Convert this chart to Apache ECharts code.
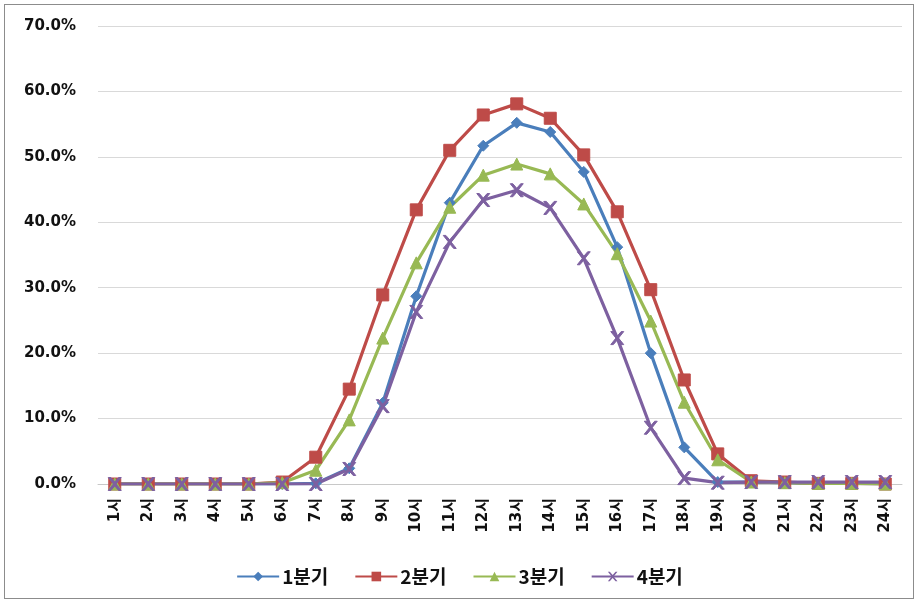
<!DOCTYPE html>
<html>
<head>
<meta charset="utf-8">
<script src="https://cdn.jsdelivr.net/npm/echarts@6/dist/echarts.min.js"></script>
<style>
  html, body { margin: 0; padding: 0; background: #fff; }
  #frame { position: absolute; left: 4px; top: 4px; width: 910px; height: 595px; border: 1px solid #8c8c8c; box-sizing: border-box; }
  #chart { position: absolute; left: 0; top: 0; width: 919px; height: 603px; }
</style>
</head>
<body>
<div id="frame"></div>
<div id="chart"></div>
<script>
// Hourly share (%) by quarter
const hours = ['1시','2시','3시','4시','5시','6시','7시','8시','9시','10시','11시','12시',
               '13시','14시','15시','16시','17시','18시','19시','20시','21시','22시','23시','24시'];
const q1 = [0, 0, 0, 0, 0, 0, 0.1, 2.4, 12.4, 28.7, 43.0, 51.7, 55.2, 53.8, 47.7, 36.2, 20.0, 5.6, 0.3, 0.3, 0.2, 0.1, 0.1, 0];
const q2 = [0, 0, 0, 0, 0, 0.3, 4.1, 14.5, 28.9, 41.9, 51.0, 56.4, 58.1, 55.9, 50.3, 41.6, 29.7, 15.9, 4.6, 0.5, 0.3, 0.1, 0.1, 0];
const q3 = [0, 0, 0, 0, 0, 0.2, 2.1, 9.8, 22.3, 33.8, 42.3, 47.2, 48.9, 47.4, 42.8, 35.2, 24.9, 12.5, 3.7, 0.3, 0.2, 0.1, 0.1, 0];
const q4 = [0, 0, 0, 0, 0, 0, 0, 2.3, 11.9, 26.3, 37.0, 43.4, 44.9, 42.2, 34.5, 22.3, 8.6, 0.9, 0.2, 0.3, 0.3, 0.3, 0.3, 0.3];
const seriesNames = ['1분기', '2분기', '3분기', '4분기'];
const yTicks = { min: 0, max: 70, interval: 10 };

const colors = ['#4a7ebb', '#be4b48', '#98b954', '#7d60a0'];
const xMark = 'path://M0,0 L2,0 L5,3.5 L8,0 L10,0 L6,5 L10,10 L8,10 L5,6.5 L2,10 L0,10 L4,5 Z';
const symbols = ['diamond', 'rect', 'triangle', xMark];
const symbolSizes = [11, 12, 12, 13];
const font = '"DejaVu Sans", "Noto Sans CJK KR", sans-serif';
const cjkFont = '"Noto Sans CJK KR", "DejaVu Sans", sans-serif';

const chart = echarts.init(document.getElementById('chart'), null, { renderer: 'canvas' });
const dataSets = [q1, q2, q3, q4];

chart.setOption({
  animation: false,
  backgroundColor: 'transparent',
  color: colors,
  grid: { left: 98, right: 17, top: 26, bottom: 119 },
  legend: {
    bottom: 12,
    left: 'center',
    itemGap: 26,
    itemWidth: 42,
    itemHeight: 12,
    textStyle: { fontFamily: cjkFont, fontSize: 19, fontWeight: 'bold', color: '#111', padding: [0, 0, 0, -2] },
    data: seriesNames
  },
  xAxis: {
    type: 'category',
    data: hours,
    boundaryGap: true,
    axisLine: { lineStyle: { color: '#c8c8c8', width: 1 } },
    axisTick: { show: false },
    axisLabel: { rotate: 90, fontFamily: font, fontSize: 15, fontWeight: 'bold', color: '#111', margin: 14, interval: 0 }
  },
  yAxis: {
    type: 'value',
    min: yTicks.min, max: yTicks.max, interval: yTicks.interval,
    axisLine: { show: false },
    axisTick: { show: false },
    splitLine: { lineStyle: { color: '#d9d9d9', width: 1 } },
    axisLabel: { fontFamily: font, fontSize: 15, fontWeight: 'bold', color: '#111', margin: 22,
                 formatter: v => v.toFixed(1) + '%' }
  },
  series: dataSets.map((d, i) => ({
    name: seriesNames[i],
    type: 'line',
    data: d,
    symbol: symbols[i],
    symbolSize: symbolSizes[i],
    showAllSymbol: true,
    lineStyle: { width: 3.2, color: colors[i] },
    itemStyle: { color: colors[i], borderColor: colors[i] }
  }))
});
</script>
</body>
</html>
